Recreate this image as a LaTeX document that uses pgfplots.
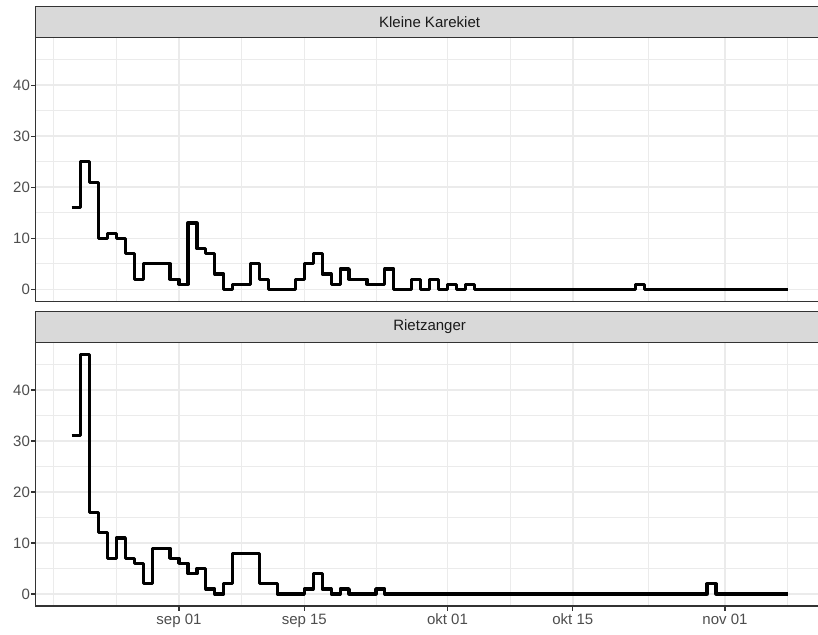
\documentclass[border=0pt]{standalone}
\usepackage{pgfplots}
\pgfplotsset{compat=1.18}
\usepackage{fontspec}
\setmainfont{Liberation Sans}
\definecolor{gridc}{HTML}{EBEBEB}
\definecolor{bord}{HTML}{333333}
\definecolor{tickc}{HTML}{4D4D4D}
\definecolor{stripc}{HTML}{D9D9D9}
\definecolor{striptext}{HTML}{1A1A1A}

\pgfplotsset{
  facet/.style={
    scale only axis, width=787.6pt, height=263.7pt,
    xmin=-16, xmax=72, ymin=-2.35, ymax=49.35,
    axis line style={bord, line width=1.1pt},
    xtick={0,14,30,44,61},
    minor xtick={-14,-7,7,22,37,52.5,68},
    ytick={0,10,20,30,40},
    minor ytick={5,15,25,35,45},
    grid=both,
    major grid style={gridc, line width=1.6pt},
    minor grid style={gridc, line width=0.8pt},
    tick align=outside,
    major tick length=4.7pt,
    minor tick length=0pt,
    tick style={bord, line width=1.1pt},
    xtick pos=bottom, ytick pos=left,
    every tick label/.append style={font=\fontsize{15}{18}\selectfont, text=tickc},
    yticklabel style={inner xsep=1pt},
    xticklabel style={inner ysep=3pt},
    /pgf/number format/assume math mode=true,
    clip=false,
  },
  stepline/.style={const plot, black, line width=3.2pt, line join=round, mark=none},
}

\begin{document}
\begin{tikzpicture}
\useasboundingbox (0,0) rectangle (818pt,634pt);

% ---- Top panel: Kleine Karekiet ----
\begin{axis}[facet, at={(35.8pt,332.7pt)}, anchor=south west,
  xticklabels={}, x tick style={draw=none}]
\addplot[stepline] coordinates {
(-12,16) (-11,25) (-10,21) (-9,10) (-8,11) (-7,10) (-6,7) (-5,2) (-4,5) (-3,5) (-2,5) (-1,2)
(0,1) (1,13) (2,8) (3,7) (4,3) (5,0) (6,1) (7,1) (8,5) (9,2) (10,0) (11,0) (12,0)
(13,2) (14,5) (15,7) (16,3) (17,1) (18,4) (19,2) (20,2) (21,1) (22,1) (23,4) (24,0) (25,0)
(26,2) (27,0) (28,2) (29,0) (30,1) (31,0) (32,1) (33,0) (34,0) (35,0) (36,0) (37,0) (38,0)
(39,0) (40,0) (41,0) (42,0) (43,0) (44,0) (45,0) (46,0) (47,0) (48,0) (49,0) (50,0) (51,1)
(52,0) (53,0) (54,0) (55,0) (56,0) (57,0) (58,0) (59,0) (60,0) (61,0) (62,0) (63,0) (64,0)
(65,0) (66,0) (67,0) (68,0)
};
\draw[bord, line width=1.1pt, fill=stripc] (rel axis cs:0,1) rectangle ([yshift=31pt]rel axis cs:1,1);
\node[text=striptext, font=\fontsize{15}{18}\selectfont] at ([yshift=15.5pt]rel axis cs:0.5,1) {Kleine Karekiet};
\end{axis}

% ---- Bottom panel: Rietzanger ----
\begin{axis}[facet, at={(35.8pt,28pt)}, anchor=south west,
  xticklabels={sep 01, sep 15, okt 01, okt 15, nov 01}]
\addplot[stepline] coordinates {
(-12,31) (-11,47) (-10,16) (-9,12) (-8,7) (-7,11) (-6,7) (-5,6) (-4,2) (-3,9) (-2,9) (-1,7)
(0,6) (1,4) (2,5) (3,1) (4,0) (5,2) (6,8) (7,8) (8,8) (9,2) (10,2) (11,0) (12,0)
(13,0) (14,1) (15,4) (16,1) (17,0) (18,1) (19,0) (20,0) (21,0) (22,1) (23,0) (24,0) (25,0)
(26,0) (27,0) (28,0) (29,0) (30,0) (31,0) (32,0) (33,0) (34,0) (35,0) (36,0) (37,0) (38,0)
(39,0) (40,0) (41,0) (42,0) (43,0) (44,0) (45,0) (46,0) (47,0) (48,0) (49,0) (50,0) (51,0)
(52,0) (53,0) (54,0) (55,0) (56,0) (57,0) (58,0) (59,2) (60,0) (61,0) (62,0) (63,0) (64,0)
(65,0) (66,0) (67,0) (68,0)
};
\draw[bord, line width=1.1pt, fill=stripc] (rel axis cs:0,1) rectangle ([yshift=31pt]rel axis cs:1,1);
\node[text=striptext, font=\fontsize{15}{18}\selectfont] at ([yshift=15.5pt]rel axis cs:0.5,1) {Rietzanger};
\end{axis}
\end{tikzpicture}
\end{document}
